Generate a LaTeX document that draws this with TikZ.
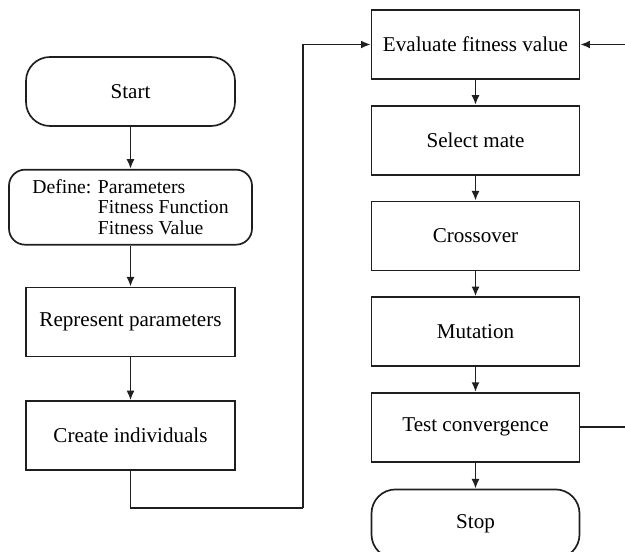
\documentclass[tikz,border=0pt]{standalone}
\usepackage{fontspec}
\setmainfont{Liberation Serif}
\usetikzlibrary{arrows.meta,positioning}

\begin{document}
\begin{tikzpicture}[
  font=\fontsize{15}{16}\selectfont,
  >={Latex[length=2.4mm,width=2mm]},
  flow/.style={->, line width=1.2pt, draw=black!88},
  line/.style={line width=1.2pt, draw=black!88},
  box/.style={draw=black!88, line width=1.2pt, align=center,
              minimum width=5.2cm, minimum height=1.725cm},
  terminal/.style={box, rounded corners=0.6cm},
  setup/.style={box, rounded corners=0.4cm, align=left,
                font=\fontsize{14}{14.5}\selectfont,
                minimum width=6.075cm, minimum height=1.875cm}
]
\useasboundingbox (0,0) rectangle (15.625,-13.775);

% Initialisation column.
\node[terminal, minimum width=5.225cm] (start) at (3.2625,-2.2875) {Start};
\node[setup, below=1.05cm of start] (define)
  {Define: Parameters\\\hphantom{Define: }Fitness Function\\\hphantom{Define: }Fitness Value};
\node[box, minimum width=5.225cm, below=1.025cm of define] (represent) {Represent parameters};
\node[box, minimum width=5.225cm, below=1.075cm of represent] (create) {Create individuals};

% Generation loop column.
\node[box] (eval) at (11.8875,-1.1125) {Evaluate fitness value};
\node[box, below=0.625cm of eval] (select) {Select mate};
\node[box, below=0.625cm of select] (cross) {Crossover};
\node[box, below=0.625cm of cross] (mutate) {Mutation};
\node[box, below=0.625cm of mutate] (test) {Test convergence};
\node[terminal, below=0.65cm of test] (stop) {Stop};

\coordinate (bend) at (7.575,-12.7);

% Main path.
\draw[flow] (start) -- (define);
\draw[flow] (define) -- (represent);
\draw[flow] (represent) -- (create);
\draw[line] (create.south) |- (bend);
\draw[flow] (bend) |- (eval.west);
\draw[flow] (eval) -- (select);
\draw[flow] (select) -- (cross);
\draw[flow] (cross) -- (mutate);
\draw[flow] (mutate) -- (test);
\draw[flow] (test) -- (stop);

% Loop back (runs past the right edge).
\draw[flow] (test.east) -- ++(1.5,0) |- (eval.east);

\end{tikzpicture}
\end{document}
